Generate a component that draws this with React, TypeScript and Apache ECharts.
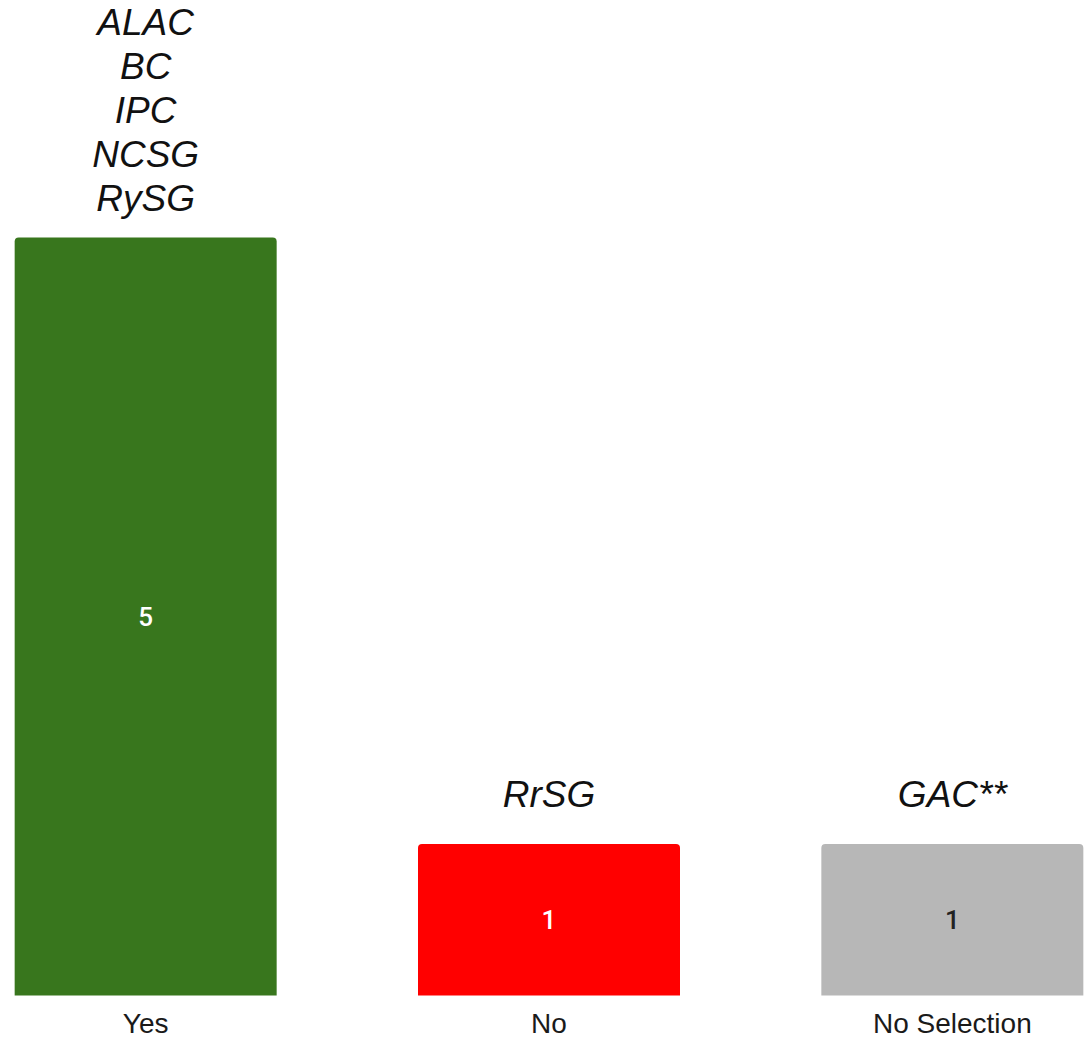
import React, { useEffect, useRef } from "react";
import * as echarts from "echarts";

const categories = ["Yes", "No", "No Selection"];
const values = [5, 1, 1];
const barColors = ["#38761d", "#ff0000", "#b7b7b7"];
const valueLabelColors = ["#ffffff", "#ffffff", "#222222"];
const groupLabels: string[][] = [
  ["ALAC", "BC", "IPC", "NCSG", "RySG"],
  ["RrSG"],
  ["GAC**"],
];

export default function App() {
  const ref = useRef<HTMLDivElement>(null);
  useEffect(() => {
    document.body.style.margin = "0";
    document.body.style.overflow = "hidden";
    const chart = echarts.init(ref.current!, null, { renderer: "svg" });
    chart.setOption({
      animation: false,
      backgroundColor: "transparent",
      grid: { left: 0, right: 0, top: 86, bottom: 44.5, containLabel: false },
      xAxis: {
        type: "category",
        data: categories,
        axisLine: { show: false },
        axisTick: { show: false },
        axisLabel: {
          fontSize: 28,
          color: "#1a1a1a",
          fontFamily: "Liberation Sans, Arial, sans-serif",
          margin: 14,
        },
      },
      yAxis: { type: "value", min: 0, max: 6, show: false, splitLine: { show: false } },
      series: [
        {
          type: "bar",
          barWidth: 262,
          data: values.map((v, i) => ({
            value: v,
            itemStyle: { color: barColors[i], borderRadius: [4, 4, 0, 0] },
            label: { color: valueLabelColors[i] },
          })),
          label: {
            show: true,
            position: "inside",
            fontSize: 26,
            fontWeight: 500,
            fontFamily: "Roboto, Liberation Sans, Arial, sans-serif",
          },
          z: 2,
        },
        {
          type: "bar",
          barWidth: 262,
          barGap: "-100%",
          silent: true,
          itemStyle: { color: "transparent" },
          data: values.map((v, i) => ({
            value: v,
            label: { distance: groupLabels[i].length > 1 ? 17 : 27 },
          })),
          label: {
            show: true,
            position: "top",
            formatter: (p: any) => groupLabels[p.dataIndex].join("\n"),
            fontSize: 37,
            lineHeight: 44,
            fontStyle: "italic",
            color: "#111111",
            fontFamily: "Liberation Sans, Arial, sans-serif",
          },
          z: 1,
        },
      ],
    });
    return () => chart.dispose();
  }, []);
  return (
    <div style={{ position: "relative", width: 1088, height: 1040, overflow: "hidden" }}>
      <div
        ref={ref}
        style={{ position: "absolute", left: -55.6, top: 0, width: 1209.75, height: 1040 }}
      />
    </div>
  );
}
